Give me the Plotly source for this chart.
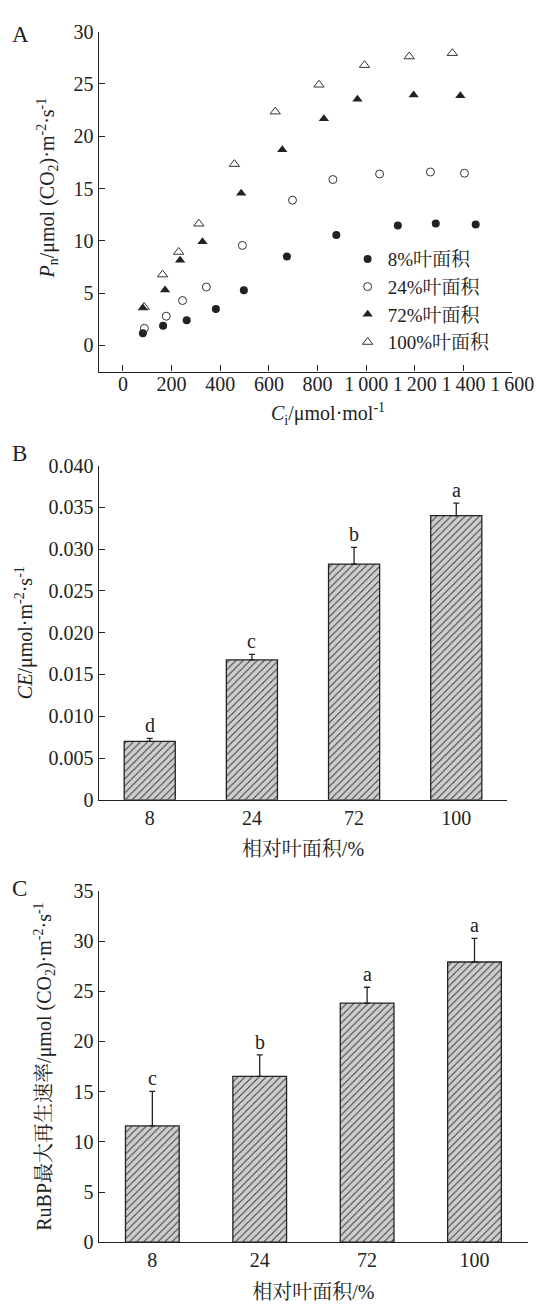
import plotly.graph_objects as go

# ---------------- data ----------------
# Panel A: Pn vs Ci for four relative leaf areas
ci_8 = [82, 165, 262, 382, 497, 674, 877, 1130, 1286, 1450]
pn_8 = [1.16, 1.88, 2.41, 3.48, 5.27, 8.5, 10.56, 11.47, 11.66, 11.57]
ci_24 = [88, 178, 245, 343, 491, 697, 863, 1055, 1264, 1404]
pn_24 = [1.63, 2.79, 4.29, 5.58, 9.56, 13.89, 15.86, 16.39, 16.58, 16.46]
ci_72 = [82, 173, 235, 327, 486, 655, 826, 964, 1195, 1387]
pn_72 = [3.57, 5.3, 8.15, 9.91, 14.55, 18.7, 21.66, 23.54, 23.95, 23.86]
ci_100 = [87, 163, 229, 312, 458, 626, 806, 993, 1177, 1354]
pn_100 = [3.67, 6.77, 8.93, 11.63, 17.33, 22.35, 24.92, 26.8, 27.62, 27.94]
series_names = ["8%叶面积", "24%叶面积", "72%叶面积", "100%叶面积"]

# Panel B / C
area_cats = ["8", "24", "72", "100"]
ce_vals = [0.0070, 0.01674, 0.0282, 0.0340]
ce_err = [0.00035, 0.00067, 0.0020, 0.0015]
ce_letters = ["d", "c", "b", "a"]
rubp_vals = [11.59, 16.52, 23.83, 27.92]
rubp_err = [3.43, 2.15, 1.57, 2.35]
rubp_letters = ["c", "b", "a", "a"]

a_xticks = [0, 200, 400, 600, 800, 1000, 1200, 1400, 1600]
a_xticktext = ["0", "200", "400", "600", "800", "1\u2009000", "1\u2009200", "1\u2009400", "1\u2009600"]
a_yticks = [0, 5, 10, 15, 20, 25, 30]
b_yticks = [0, 0.005, 0.010, 0.015, 0.020, 0.025, 0.030, 0.035, 0.040]
b_yticktext = ["0", "0.005", "0.010", "0.015", "0.020", "0.025", "0.030", "0.035", "0.040"]
c_yticks = [0, 5, 10, 15, 20, 25, 30, 35]

# ---------------- layout helpers ----------------
W, H = 555, 1306
FONT = "Liberation Serif, 'Noto Serif CJK SC', 'Noto Sans CJK SC', serif"
INK = "#222222"


def xd(a, b):
    return [a / W, b / W]


def yd(top, bottom):
    return [1 - bottom / H, 1 - top / H]


fig = go.Figure()

marker_specs = [
    dict(symbol="circle", size=8, color=INK),
    dict(symbol="circle-open", size=8, color="#333333", line=dict(width=1)),
    dict(symbol="triangle-up", size=9, color=INK),
    dict(symbol="triangle-up-open", size=9, color="#333333", line=dict(width=1)),
]
for xs, ys, name, mk in zip([ci_8, ci_24, ci_72, ci_100],
                            [pn_8, pn_24, pn_72, pn_100],
                            series_names, marker_specs):
    fig.add_trace(go.Scatter(x=xs, y=ys, mode="markers", name=name,
                             marker=mk, xaxis="x", yaxis="y"))

bar_marker = dict(color="#cfcfcf", line=dict(color=INK, width=1.3),
                  pattern=dict(shape="/", bgcolor="#cdcdcd", fgcolor="#3a3a3a",
                               size=5, solidity=0.2, fillmode="replace"))

fig.add_trace(go.Bar(x=area_cats, y=ce_vals, width=0.5, marker=bar_marker,
                     showlegend=False, xaxis="x2", yaxis="y2",
                     error_y=dict(type="data", array=ce_err, arrayminus=[0] * 4,
                                  symmetric=False, width=3, thickness=1.3, color=INK)))
fig.add_trace(go.Bar(x=area_cats, y=rubp_vals, width=0.5, marker=bar_marker,
                     showlegend=False, xaxis="x3", yaxis="y3",
                     error_y=dict(type="data", array=rubp_err, arrayminus=[0] * 4,
                                  symmetric=False, width=3, thickness=1.3, color=INK)))

axis_common = dict(showline=True, linecolor=INK, linewidth=1.3, showgrid=False,
                   zeroline=False, ticks="inside", ticklen=6, tickwidth=1.3,
                   tickcolor=INK, tickfont=dict(size=20, color=INK), mirror=False,
                   ticklabeloverflow="allow")

fig.update_layout(
    width=W, height=H, margin=dict(l=0, r=0, t=0, b=0),
    paper_bgcolor="white", plot_bgcolor="white",
    font=dict(family=FONT, size=20, color=INK),
    xaxis=dict(axis_common, domain=xd(102.7, 533.3), range=[-100, 1600],
               tickvals=a_xticks, ticktext=a_xticktext, anchor="y",
               ticklabelstandoff=-6),
    yaxis=dict(axis_common, domain=yd(21, 366.7), range=[-2.5, 30],
               tickvals=a_yticks, anchor="x"),
    xaxis2=dict(axis_common, domain=xd(102.7, 528.3), ticks="", anchor="y2",
                type="category", range=[-0.5, 3.5],
                title=dict(text="相对叶面积/%", font=dict(size=20), standoff=14)),
    yaxis2=dict(axis_common, domain=yd(462.3, 802.3), range=[0, 0.04],
                tickvals=b_yticks, ticktext=b_yticktext, anchor="x2",
                title=dict(text="<i>CE</i>/μmol·m<sup>-2</sup>·s<sup>-1</sup>",
                           font=dict(size=20), standoff=10)),
    xaxis3=dict(axis_common, domain=xd(102.7, 550), ticks="", anchor="y3",
                type="category", range=[-0.5, 3.5],
                title=dict(text="相对叶面积/%", font=dict(size=20), standoff=14)),
    yaxis3=dict(axis_common, domain=yd(895, 1252.3), range=[0, 35],
                tickvals=c_yticks, anchor="x3",
                title=dict(text="RuBP最大再生速率/μmol (CO<sub>2</sub>)·m<sup>-2</sup>·s<sup>-1</sup>",
                           font=dict(size=20), standoff=16)),
    legend=dict(x=362 / W, y=1 - 233 / H, xanchor="left", yanchor="top",
                bgcolor="rgba(0,0,0,0)", borderwidth=0,
                font=dict(size=19, color=INK), tracegroupgap=0),
)

annotations = []
# significance letters, placed on category index positions above error bars
for i, (v, e, t) in enumerate(zip(ce_vals, ce_err, ce_letters)):
    annotations.append(dict(x=i, y=v + e, xref="x2", yref="y2", text=t,
                            showarrow=False, yanchor="bottom", yshift=0,
                            font=dict(size=20, color=INK)))
for i, (v, e, t) in enumerate(zip(rubp_vals, rubp_err, rubp_letters)):
    annotations.append(dict(x=i, y=v + e, xref="x3", yref="y3", text=t,
                            showarrow=False, yanchor="bottom", yshift=0,
                            font=dict(size=20, color=INK)))
# panel A axis titles, placed as in the original figure
annotations.append(dict(x=50 / W, y=1 - 180.5 / H, xref="paper", yref="paper",
                        text="<i>P</i><sub>n</sub>/μmol (CO<sub>2</sub>)·m<sup>-2</sup>·s<sup>-1</sup>",
                        textangle=-90, showarrow=False, xanchor="center", yanchor="middle",
                        font=dict(size=20, color=INK)))
annotations.append(dict(x=342 / W, y=1 - 410 / H, xref="paper", yref="paper",
                        text="<i>C</i><sub>i</sub>/μmol·mol<sup>-1</sup>",
                        showarrow=False, xanchor="center", yanchor="middle",
                        font=dict(size=20, color=INK)))
for lab, px, py in [("A", 21, 24), ("B", 20, 450), ("C", 20, 893)]:
    annotations.append(dict(x=px / W, y=1 - py / H, xref="paper", yref="paper",
                            text=lab, showarrow=False, xanchor="center",
                            yanchor="middle", font=dict(size=23, color=INK)))
fig.update_layout(annotations=annotations)

fig.write_html("out.html")
